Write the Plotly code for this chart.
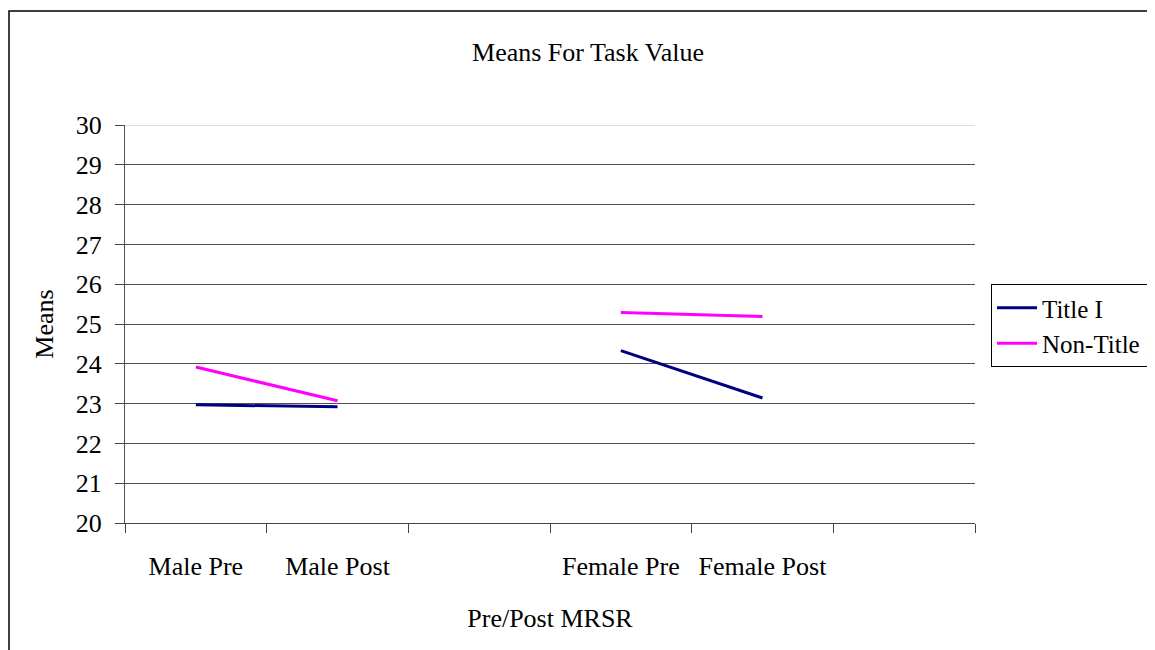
import plotly.graph_objects as go

categories = ["Male Pre", "Male Post", " ", "Female Pre", "Female Post", "  "]
title_i = [22.97, 22.92, None, 24.33, 23.14, None]
non_title_i = [23.92, 23.07, None, 25.29, 25.19, None]
y_ticks = [20, 21, 22, 23, 24, 25, 26, 27, 28, 29, 30]

FONT = "Liberation Serif"
FS = 26

fig = go.Figure()
fig.add_trace(go.Scatter(x=categories, y=title_i, mode="lines", name="Title I",
                         line=dict(color="#000080", width=3), connectgaps=False))
fig.add_trace(go.Scatter(x=categories, y=non_title_i, mode="lines", name="Non-Title I",
                         line=dict(color="#FF00FF", width=3), connectgaps=False))

fig.update_layout(
    width=1147, height=642,
    margin=dict(l=117, r=180, t=117, b=127, autoexpand=False),
    paper_bgcolor="white", plot_bgcolor="white",
    font=dict(family=FONT, size=FS, color="black"),
    title=dict(text="Means For Task Value", x=580/1147, xanchor="center",
               y=1-44/642, yanchor="middle", font=dict(family=FONT, size=FS)),
    showlegend=True,
    legend=dict(x=(991-125)/850, y=(523-284)/398, xanchor="left", yanchor="top",
                bordercolor="black", borderwidth=1, bgcolor="white",
                font=dict(family=FONT, size=25), itemwidth=40,
                tracegroupgap=0),
    xaxis=dict(
        type="category", categoryorder="array", categoryarray=categories,
        range=[-0.5, 5.5], tickson="boundaries", ticks="outside", ticklen=9,
        tickcolor="#444", showline=True, linecolor="#444", linewidth=1,
        showgrid=False, zeroline=False, ticklabelstandoff=20,
        tickfont=dict(family=FONT, size=FS),
        title=dict(text="Pre/Post MRSR", standoff=28, font=dict(family=FONT, size=FS)),
    ),
    yaxis=dict(
        range=[20, 30], tickvals=y_ticks, ticks="outside", ticklen=9,
        tickcolor="#444", showline=True, linecolor="#555", linewidth=1,
        showgrid=True, gridcolor="#505050", gridwidth=1, zeroline=False,
        ticklabelstandoff=8,
        tickfont=dict(family=FONT, size=FS),
        title=dict(text="Means", standoff=14, font=dict(family=FONT, size=FS)),
    ),
    shapes=[
        dict(type="line", xref="paper", yref="y", x0=0, x1=1, y0=30, y1=30,
             line=dict(color="#dddddd", width=2), layer="above"),
        dict(type="rect", xref="paper", yref="paper",
             x0=(1-117)/850, x1=(1175-125)/850, y0=(523-660)/398, y1=(523-11)/398,
             line=dict(color="black", width=1.5), layer="below"),
    ],
)

fig.write_html("out.html")
